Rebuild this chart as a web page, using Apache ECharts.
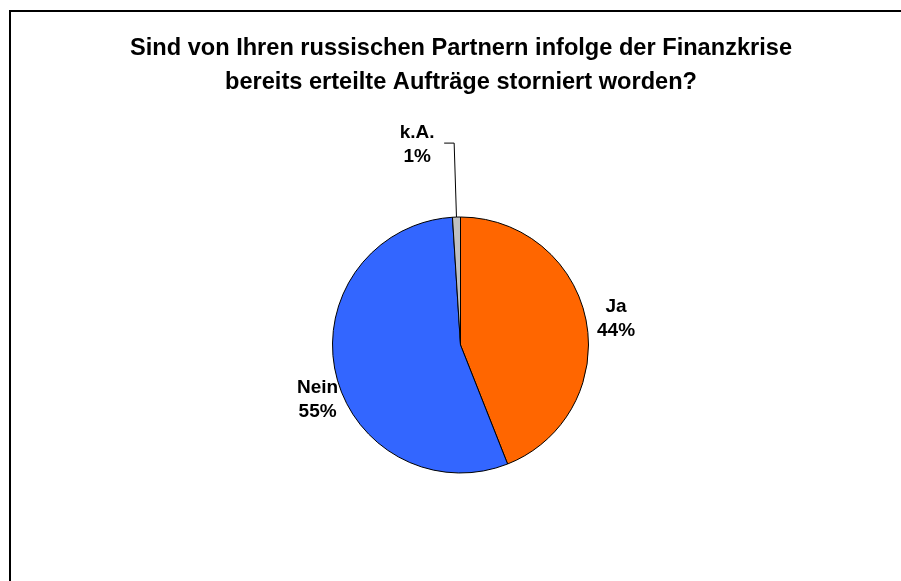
<!DOCTYPE html>
<html>
<head>
<meta charset="utf-8">
<script src="https://cdn.jsdelivr.net/npm/echarts@6/dist/echarts.min.js"></script>
<style>
html,body{margin:0;padding:0;background:#fff;}
#chart{width:901px;height:581px;}
</style>
</head>
<body>
<div id="chart"></div>
<script>
const titleLines = ['Sind von Ihren russischen Partnern infolge der Finanzkrise', 'bereits erteilte Aufträge storniert worden?'];
const categories = ['Ja', 'Nein', 'k.A.'];
const values = [44, 55, 1];
const colors = ['#FF6600', '#3366FF', '#C0C0C0'];

const lineLen = [11, 0, 74];
const lineLen2 = [0, 0, 10];
const showLine = [false, false, true];
const labelShift = [[-8, 0], [9, 27], [0, 2]];

const chart = echarts.init(document.getElementById('chart'), null, {renderer: 'canvas'});
chart.setOption({
  backgroundColor: '#ffffff',
  animation: false,
  title: {
    text: titleLines.join('\n'),
    left: 456,
    textAlign: 'center',
    top: 26,
    textStyle: {fontFamily: 'Liberation Sans, Arial, sans-serif', fontWeight: 'bold', fontSize: 23.6, lineHeight: 34, color: '#000'}
  },
  graphic: [{
    type: 'rect', silent: true,
    shape: {x: 10, y: 11, width: 1000, height: 1000},
    style: {fill: 'none', stroke: '#000', lineWidth: 2}
  }],
  series: [{
    type: 'pie',
    center: [460.5, 345],
    radius: 128,
    startAngle: 90,
    clockwise: true,
    avoidLabelOverlap: false,
    itemStyle: {borderColor: '#000', borderWidth: 1},
    labelLayout: function (p) {
      const s = labelShift[p.dataIndex];
      return {dx: s[0], dy: s[1]};
    },
    data: categories.map((c, i) => ({
      name: c, value: values[i],
      itemStyle: {color: colors[i]},
      labelLine: {show: showLine[i], length: lineLen[i], length2: lineLen2[i], lineStyle: {color: '#000', width: 1}},
      label: {distanceToLabelLine: 5}
    })),
    label: {
      position: 'outside',
      formatter: function (p) { return '{t|' + p.name + '}\n{t|' + Math.round(p.percent) + '%}'; },
      rich: {t: {fontFamily: 'Liberation Sans, Arial, sans-serif', fontWeight: 'bold', fontSize: 19, lineHeight: 24, color: '#000', width: 44, align: 'center'}}
    },
    emphasis: {disabled: true}
  }]
});
</script>
</body>
</html>
